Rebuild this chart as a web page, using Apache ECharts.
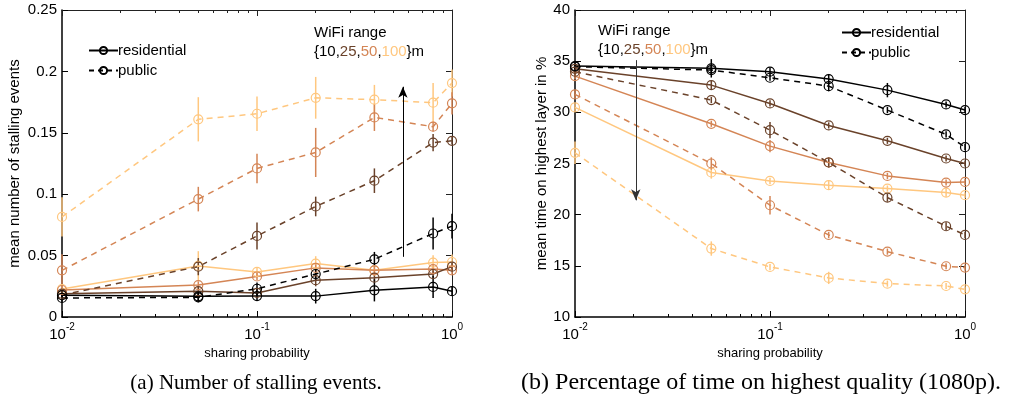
<!DOCTYPE html>
<html><head><meta charset="utf-8">
<script src="https://cdn.jsdelivr.net/npm/echarts@6/dist/echarts.min.js"></script>
<style>html,body{margin:0;padding:0;background:#fff}#c{width:1011px;height:400px}</style>
</head><body><div id="c"></div>
<script>
// ---- data ----
const sharingProb = [0.01, 0.05, 0.1, 0.2, 0.4, 0.8, 1];
const wifiRanges = [10, 25, 50, 100];
const rangeColors = ['#000000', '#6a422a', '#d48555', '#ffc77f'];

// (a) mean number of stalling events
const stallResidential10 = [0.0177, 0.0168, 0.017, 0.017, 0.0217, 0.0245, 0.021];
const stallResidential25 = [0.019, 0.021, 0.0196, 0.030, 0.032, 0.035, 0.041];
const stallResidential50 = [0.022, 0.026, 0.033, 0.040, 0.038, 0.039, 0.038];
const stallResidential100 = [0.0228, 0.0416, 0.0367, 0.0435, 0.038, 0.0443, 0.0448];
const stallPublic10 = [0.0155, 0.016, 0.023, 0.035, 0.047, 0.068, 0.074];
const stallPublic25 = [0.018, 0.041, 0.066, 0.090, 0.111, 0.142, 0.1435];
const stallPublic50 = [0.038, 0.096, 0.121, 0.134, 0.1625, 0.155, 0.174];
const stallPublic100 = [0.0815, 0.161, 0.1655, 0.1785, 0.177, 0.1745, 0.1905];
// error half-widths
const stallErrResidential10 = [0.002, 0.004, 0.004, 0.006, 0.009, 0.009, 0.004];
const stallErrResidential25 = [0.003, 0.004, 0.004, 0.005, 0.003, 0.003, 0.003];
const stallErrResidential50 = [0.003, 0.003, 0.003, 0.004, 0.003, 0.003, 0.003];
const stallErrResidential100 = [0.003, 0.012, 0.004, 0.006, 0.004, 0.006, 0.006];
const stallErrPublic10 = [0.003, 0.004, 0.005, 0.005, 0.006, 0.013, 0.010];
const stallErrPublic25 = [0.004, 0.007, 0.011, 0.008, 0.010, 0.007, 0.003];
const stallErrPublic50 = [0.013, 0.010, 0.012, 0.020, 0.011, 0.004, 0.009];
const stallErrPublic100 = [0.016, 0.018, 0.014, 0.017, 0.012, 0.016, 0.011];

// (b) mean time on highest layer in %
const hqResidential10 = [34.52, 34.3, 33.97, 33.25, 32.17, 30.77, 30.22];
const hqResidential25 = [34.25, 32.66, 30.87, 28.72, 27.22, 25.49, 25.0];
const hqResidential50 = [33.54, 28.88, 26.7, 25.1, 23.79, 23.14, 23.2];
const hqResidential100 = [30.48, 24.12, 23.3, 22.88, 22.55, 22.16, 21.9];
const hqPublic10 = [34.46, 34.13, 33.38, 32.56, 30.22, 27.84, 26.6];
const hqPublic25 = [33.97, 31.2, 28.26, 25.1, 21.67, 18.87, 18.02];
const hqPublic50 = [31.75, 25.0, 20.92, 18.02, 16.39, 14.96, 14.83];
const hqPublic100 = [26.04, 16.69, 14.89, 13.82, 13.26, 13.03, 12.7];
const hqErrResidential10 = [0.25, 0.9, 0.4, 0.5, 0.7, 0.3, 0.3];
const hqErrResidential25 = [0.3, 0.4, 0.3, 0.3, 0.3, 0.3, 0.3];
const hqErrResidential50 = [0.3, 0.3, 0.6, 0.3, 0.3, 0.3, 0.3];
const hqErrResidential100 = [0.4, 0.6, 0.3, 0.4, 0.3, 0.4, 0.3];
const hqErrPublic10 = [0.3, 0.4, 0.3, 0.5, 0.3, 0.3, 0.3];
const hqErrPublic25 = [0.3, 0.3, 0.8, 0.5, 0.4, 0.4, 0.3];
const hqErrPublic50 = [0.4, 0.6, 0.9, 0.3, 0.3, 0.3, 0.3];
const hqErrPublic100 = [1.1, 0.7, 0.3, 0.6, 0.3, 0.3, 0.3];

// annotation arrows (data coordinates)
const arrowA = { x: 0.56, from: 0.049, to: 0.1875 };
const arrowB = { x: 0.0205, from: 35.1, to: 21.4 };

const xMajorTicks = [0.01, 0.1, 1];
const xMinorTicks = [0.02, 0.03, 0.04, 0.05, 0.06, 0.07, 0.08, 0.09, 0.2, 0.3, 0.4, 0.5, 0.6, 0.7, 0.8, 0.9];
const yTicksA = [0, 0.05, 0.1, 0.15, 0.2, 0.25];
const yTicksB = [10, 15, 20, 25, 30, 35, 40];

const captionA = '(a) Number of stalling events.';
const captionB = '(b) Percentage of time on highest quality (1080p).';

// ---- chart ----
const SANS = 'Liberation Sans, Arial, sans-serif';
const SERIF = 'Liberation Serif, Times New Roman, serif';

const stallRes = [stallResidential10, stallResidential25, stallResidential50, stallResidential100];
const stallPub = [stallPublic10, stallPublic25, stallPublic50, stallPublic100];
const stallErrRes = [stallErrResidential10, stallErrResidential25, stallErrResidential50, stallErrResidential100];
const stallErrPub = [stallErrPublic10, stallErrPublic25, stallErrPublic50, stallErrPublic100];
const hqRes = [hqResidential10, hqResidential25, hqResidential50, hqResidential100];
const hqPub = [hqPublic10, hqPublic25, hqPublic50, hqPublic100];
const hqErrRes = [hqErrResidential10, hqErrResidential25, hqErrResidential50, hqErrResidential100];
const hqErrPub = [hqErrPublic10, hqErrPublic25, hqErrPublic50, hqErrPublic100];

function xAxes(gridIndex) {
  const base = { type: 'log', logBase: 10, min: 0.01, max: 1, gridIndex, splitLine: { show: false } };
  return [
    Object.assign({}, base, {
      position: 'bottom',
      axisLine: { show: true, lineStyle: { color: '#000', width: 1.5 } },
      axisTick: { show: true, inside: true, length: 6, customValues: xMajorTicks, lineStyle: { color: '#000', width: 1 } },
      axisLabel: {
        show: true, customValues: xMajorTicks, margin: 5,
        formatter: function (v) {
          const e = Math.round(Math.log10(v));
          return '{b|10}{s|' + (e === 0 ? '0' : '-' + (-e)) + '}';
        },
        rich: {
          b: { fontSize: 15, fontFamily: SANS, color: '#000', verticalAlign: 'bottom', lineHeight: 20 },
          s: { fontSize: 10, fontFamily: SANS, color: '#000', verticalAlign: 'top', lineHeight: 20 }
        }
      },
      name: 'sharing probability', nameLocation: 'middle', nameGap: 29,
      nameTextStyle: { fontSize: 13, fontFamily: SANS, color: '#000' }
    }),
    Object.assign({}, base, {
      position: 'bottom',
      axisLine: { show: false },
      axisTick: { show: true, inside: true, length: 3, customValues: xMinorTicks, lineStyle: { color: '#000', width: 1 } },
      axisLabel: { show: false }
    }),
    Object.assign({}, base, {
      position: 'top',
      axisLine: { show: true, lineStyle: { color: '#222', width: 1 } },
      axisTick: { show: true, inside: true, length: 6, customValues: xMajorTicks, lineStyle: { color: '#222', width: 1 } },
      axisLabel: { show: false }
    }),
    Object.assign({}, base, {
      position: 'top',
      axisLine: { show: false },
      axisTick: { show: true, inside: true, length: 3, customValues: xMinorTicks, lineStyle: { color: '#222', width: 1 } },
      axisLabel: { show: false }
    })
  ];
}

function yAxes(gridIndex, ticks, name, nameGap) {
  const base = { type: 'value', gridIndex, min: ticks[0], max: ticks[ticks.length - 1], interval: ticks[1] - ticks[0], splitLine: { show: false } };
  return [
    Object.assign({}, base, {
      position: 'left',
      axisLine: { show: true, lineStyle: { color: '#000', width: 1.5 } },
      axisTick: { show: true, inside: true, length: 6, lineStyle: { color: '#000' } },
      axisLabel: { show: true, fontSize: 15, fontFamily: SANS, color: '#000', margin: 5 },
      name, nameLocation: 'middle', nameGap, nameRotate: 90,
      nameTextStyle: { fontSize: 15, fontFamily: SANS, color: '#000' }
    }),
    Object.assign({}, base, {
      position: 'right',
      axisLine: { show: true, lineStyle: { color: '#222', width: 1 } },
      axisTick: { show: true, inside: true, length: 6, lineStyle: { color: '#222' } },
      axisLabel: { show: false }
    })
  ];
}

function errRender(params, api) {
  const x = api.value(0), y = api.value(1), e = api.value(2);
  const a = api.coord([x, y + e]), b = api.coord([x, y - e]);
  return {
    type: 'line',
    shape: { x1: a[0], y1: a[1], x2: b[0], y2: b[1] },
    style: { stroke: api.visual('color'), lineWidth: 1.5 }
  };
}

const series = [];
function addSet(values, errs, dashed, xi, yi, ci) {
  const c = rangeColors[ci];
  series.push({
    type: 'custom', xAxisIndex: xi, yAxisIndex: yi, clip: false, z: 1,
    itemStyle: { color: c },
    renderItem: errRender,
    data: sharingProb.map((x, i) => [x, values[i], errs[i]]),
    silent: true
  });
  series.push({
    type: 'line', xAxisIndex: xi, yAxisIndex: yi, clip: false, z: 2,
    symbol: 'circle', symbolSize: 9, showSymbol: true,
    lineStyle: { color: c, width: 1.5, type: dashed ? [6, 5] : 'solid' },
    itemStyle: { color: 'rgba(0,0,0,0)', borderColor: c, borderWidth: 1.2 },
    emphasis: { disabled: true },
    data: sharingProb.map((x, i) => [x, values[i]]),
    silent: true
  });
}
for (let k = 3; k >= 0; k--) {
  addSet(stallRes[k], stallErrRes[k], false, 0, 0, k);
  addSet(stallPub[k], stallErrPub[k], true, 0, 0, k);
  addSet(hqRes[k], hqErrRes[k], false, 4, 2, k);
  addSet(hqPub[k], hqErrPub[k], true, 4, 2, k);
}

// arrows
function arrowSeries(xi, yi, a, color) {
  return {
    type: 'line', xAxisIndex: xi, yAxisIndex: yi, data: [], silent: true, z: 3,
    markLine: {
      silent: true, animation: false, symbol: ['none', 'arrow'], symbolSize: [7, 11],
      label: { show: false },
      lineStyle: { color, width: 1, type: 'solid' },
      data: [[{ coord: [a.x, a.from] }, { coord: [a.x, a.to] }]]
    }
  };
}
series.push(arrowSeries(0, 0, arrowA, '#000'));
series.push(arrowSeries(4, 2, arrowB, '#333'));

// legend dummy series
series.push({
  name: 'residential', type: 'line', xAxisIndex: 0, yAxisIndex: 0, data: [],
  symbol: 'circle', symbolSize: 8,
  lineStyle: { color: '#000', width: 1.5, type: 'solid' },
  itemStyle: { color: 'rgba(0,0,0,0)', borderColor: '#000', borderWidth: 1.2 }
});
series.push({
  name: 'public', type: 'line', xAxisIndex: 0, yAxisIndex: 0, data: [],
  symbol: 'circle', symbolSize: 8,
  lineStyle: { color: '#000', width: 1.5, type: [5, 4] },
  itemStyle: { color: 'rgba(0,0,0,0)', borderColor: '#000', borderWidth: 1.2 }
});

const legendBase = {
  orient: 'vertical', data: ['residential', 'public'], itemWidth: 29, itemHeight: 9, itemGap: 5,
  padding: 0, selectedMode: false,
  textStyle: { fontSize: 15, fontFamily: SANS, color: '#000', padding: [0, 0, 0, -5] }
};

function rangeText(x, y) {
  return [
    { type: 'text', x, y, style: { text: 'WiFi range', font: '15px ' + SANS, fill: '#000', textVerticalAlign: 'middle' } },
    {
      type: 'text', x, y: y + 19,
      style: {
        text: '{10,{b|25},{o|50},{l|100}}m',
        textVerticalAlign: 'middle',
        font: '15px ' + SANS, fill: '#000',
        rich: {
          b: { fontSize: 15, fontFamily: SANS, fill: rangeColors[1], color: rangeColors[1] },
          o: { fontSize: 15, fontFamily: SANS, fill: rangeColors[2], color: rangeColors[2] },
          l: { fontSize: 15, fontFamily: SANS, fill: rangeColors[3], color: rangeColors[3] }
        }
      }
    }
  ];
}

const option = {
  animation: false,
  backgroundColor: '#fff',
  grid: [
    { left: 62, top: 10, width: 390, height: 307 },
    { left: 575, top: 10, width: 390, height: 307 }
  ],
  xAxis: xAxes(0).concat(xAxes(1)),
  yAxis: yAxes(0, yTicksA, 'mean number of stalling events', 40).concat(yAxes(1, yTicksB, 'mean time on highest layer in %', 26)),
  legend: [
    Object.assign({}, legendBase, { left: 88, top: 43 }),
    Object.assign({}, legendBase, { left: 841, top: 25 })
  ],
  graphic: rangeText(314, 33).concat(rangeText(598, 31)).concat([
    { type: 'text', x: 256, y: 383, style: { text: captionA, font: '21px ' + SERIF, fill: '#000', textAlign: 'center', textVerticalAlign: 'middle' } },
    { type: 'text', x: 761, y: 383, style: { text: captionB, font: '24px ' + SERIF, fill: '#000', textAlign: 'center', textVerticalAlign: 'middle' } }
  ]),
  series
};

const chart = echarts.init(document.getElementById('c'), null, { renderer: 'canvas' });
chart.setOption(option);
</script>
</body></html>
